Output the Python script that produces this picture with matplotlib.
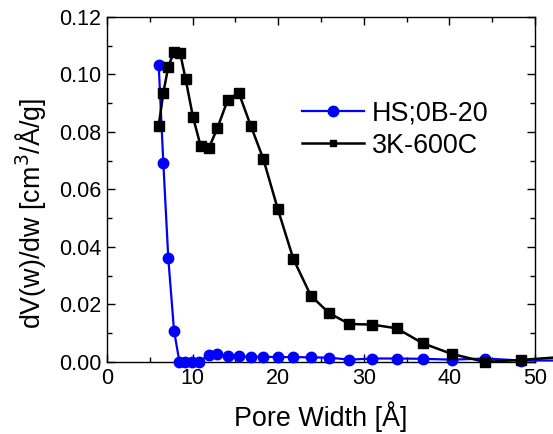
import matplotlib
matplotlib.use("Agg")
import matplotlib.pyplot as plt
from matplotlib.ticker import MultipleLocator, FormatStrFormatter

plt.rcParams['font.family'] = ['Liberation Sans', 'DejaVu Sans']

# pore width [A] and dV/dw for the two samples
hs_w = [6.04, 6.58, 7.16, 7.83, 8.46, 9.16, 9.9, 10.7, 11.88, 12.89, 14.10, 15.39,
        16.79, 18.26, 19.94, 21.76, 23.80, 25.93, 28.31, 30.96, 33.84, 36.88,
        40.27, 44.16, 48.33, 53.5]
hs_dv = [0.1032, 0.0692, 0.0360, 0.0109, 0.0, 0.0, 0.0, 0.0, 0.0024, 0.0028, 0.0019,
         0.0019, 0.0018, 0.0018, 0.0017, 0.0017, 0.0016, 0.0015, 0.0008, 0.0012,
         0.0012, 0.0011, 0.0008, 0.0012, 0.0005, 0.0005]

k_w = [6.04, 6.58, 7.16, 7.83, 8.53, 9.19, 10.05, 10.95, 11.88, 12.89, 14.10, 15.39,
       16.79, 18.26, 19.94, 21.76, 23.80, 25.93, 28.31, 30.96, 33.84, 36.88,
       40.27, 44.16, 48.33, 53.5]
k_dv = [0.0822, 0.0936, 0.1027, 0.1079, 0.1076, 0.0983, 0.0851, 0.0750, 0.0743,
        0.0813, 0.0911, 0.0936, 0.0822, 0.0706, 0.0533, 0.0359, 0.0231, 0.0170,
        0.0132, 0.0130, 0.0117, 0.0065, 0.0028, 0.0, 0.0007, 0.0018]

fig = plt.figure(figsize=(5.53, 4.34), dpi=100)
ax = fig.add_axes([0.1935, 0.166, 0.774, 0.795])

ax.plot(hs_w, hs_dv, color='#0000ff', marker='o', markersize=7.5, lw=1.6,
        label='HS;0B-20', clip_on=False, zorder=3)
ax.plot(k_w, k_dv, color='black', marker='s', markersize=7, lw=1.8,
        label='3K-600C', clip_on=False, zorder=4)

ax.set_xlim(0, 50)
ax.set_ylim(0, 0.12)
ax.xaxis.set_major_locator(MultipleLocator(10))
ax.xaxis.set_minor_locator(MultipleLocator(5))
ax.yaxis.set_major_locator(MultipleLocator(0.02))
ax.yaxis.set_minor_locator(MultipleLocator(0.01))
ax.yaxis.set_major_formatter(FormatStrFormatter('%.2f'))

ax.tick_params(which='both', direction='in', top=True, right=True, width=1,
               labelsize=15.5, pad=4)
ax.tick_params(which='major', length=5.5)
ax.tick_params(which='minor', length=3.3)
for s in ax.spines.values():
    s.set_linewidth(1)

ax.set_xlabel('Pore Width [Å]', fontsize=19.4, labelpad=9)
ax.set_ylabel('dV(w)/dw [cm$^3$/Å/g]', fontsize=19.4, labelpad=8, y=0.43)

leg = ax.legend(loc='upper left', bbox_to_anchor=(0.43, 0.79), frameon=False,
                fontsize=19.4, handlelength=2.3, handletextpad=0.3,
                labelspacing=0.25, borderaxespad=0)
leg.legend_handles[1].set_markersize(5)

fig.savefig('out.png', dpi=100)
